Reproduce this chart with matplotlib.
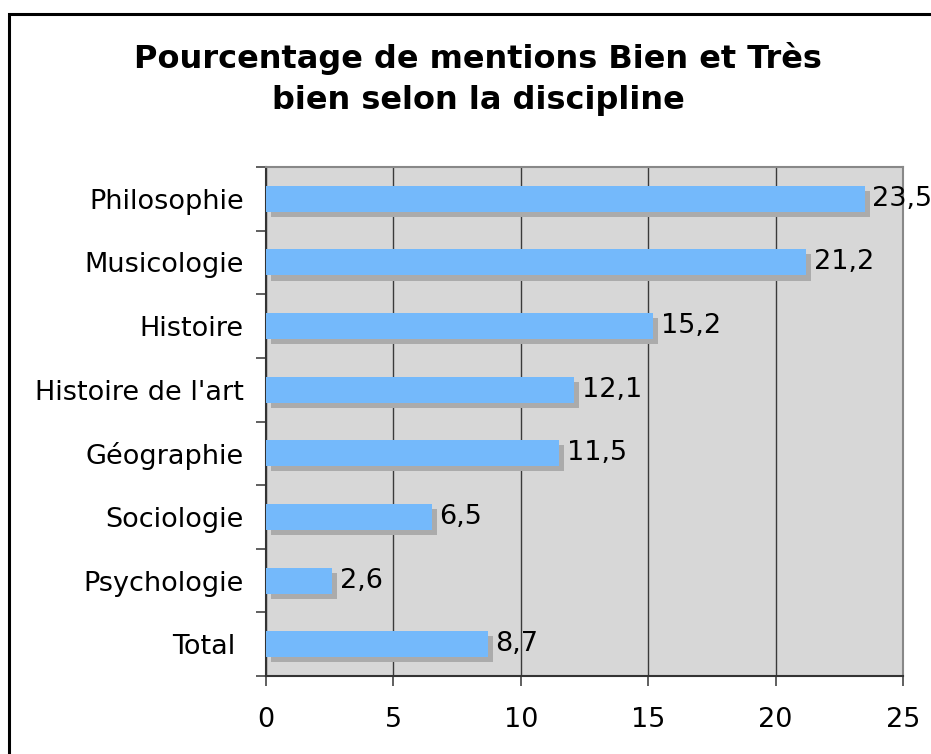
import matplotlib
matplotlib.use('Agg')
import matplotlib.pyplot as plt
from matplotlib.patches import Rectangle

# data (top to bottom)
disciplines = ['Philosophie', 'Musicologie', 'Histoire', "Histoire de l'art",
               'Géographie', 'Sociologie', 'Psychologie', 'Total ']
values = [23.5, 21.2, 15.2, 12.1, 11.5, 6.5, 2.6, 8.7]
xticks = [0, 5, 10, 15, 20, 25]

fig = plt.figure(figsize=(9.31, 7.54), dpi=100)
ax = fig.add_axes([266 / 931, 1 - 676 / 754, 637 / 931, 509 / 754])

n = len(values)
ypos = [n - 1 - i for i in range(n)]
bar_h = 0.41

# shadow first, then bar
ax.barh([y - 0.08 for y in ypos], values, height=bar_h, left=0.2,
        color='#ababab', zorder=2)
ax.barh(ypos, values, height=bar_h, color='#74b9fb', zorder=3)

for y, v in zip(ypos, values):
    ax.text(v + 0.3, y, f'{v:.1f}'.replace('.', ','), va='center', ha='left',
            fontsize=19.5, zorder=4, clip_on=False)

ax.set_xlim(0, 25)
ax.set_ylim(-0.5, n - 0.5)
ax.set_facecolor('#d7d7d7')
ax.set_xticks(xticks)
ax.set_xticklabels([str(t) for t in xticks], fontsize=19.5)
ax.xaxis.grid(True, color='#3a3a3a', linewidth=1)
ax.set_axisbelow(True)

# category labels at centers, tick marks at boundaries
ax.set_yticks(ypos)
ax.set_yticklabels(disciplines, fontsize=19.5)
ax.tick_params(axis='y', length=0, pad=16)
ax.set_yticks([i - 0.5 for i in range(n + 1)], minor=True)
ax.tick_params(axis='y', which='minor', length=7, width=1.2, color='#444444')
ax.tick_params(axis='x', length=7, width=1.2, pad=15, color='#444444')

for s in ['top', 'right']:
    ax.spines[s].set_color('#888888')
    ax.spines[s].set_linewidth(1.5)
for s in ['left', 'bottom']:
    ax.spines[s].set_color('#333333')
    ax.spines[s].set_linewidth(1.5)

fig.text(478 / 931, 1 - 79 / 754,
         'Pourcentage de mentions Bien et Très\nbien selon la discipline',
         ha='center', va='center', fontsize=23, fontweight='bold',
         linespacing=1.4)

# outer frame, running off the right and bottom edges
fig.patches.append(Rectangle((9 / 931, -0.1), 1.0, 1 - 14 / 754 + 0.1,
                             transform=fig.transFigure, fill=False,
                             edgecolor='black', linewidth=2.2))

fig.savefig('out.png', dpi=100)
